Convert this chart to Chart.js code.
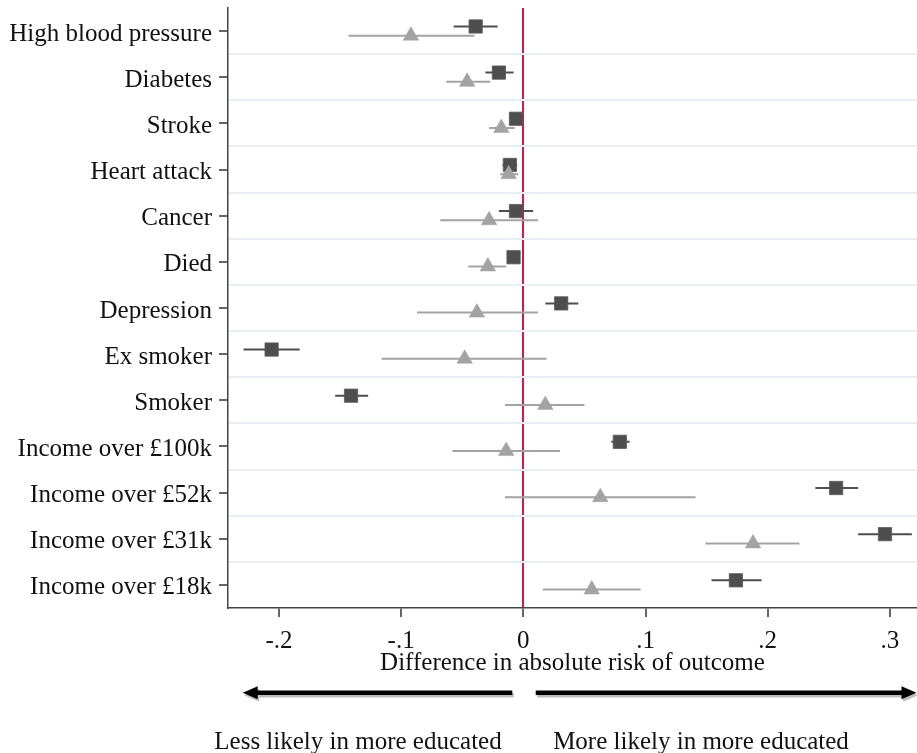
<!DOCTYPE html>
<html><head><meta charset="utf-8">
<script src="https://cdn.jsdelivr.net/npm/chart.js@4"></script>
<style>
html,body{margin:0;padding:0;background:#fff;}
#wrap{position:relative;width:917px;height:753px;overflow:hidden;}
.cap{position:absolute;top:728px;font-family:"Liberation Serif","Times New Roman",serif;font-size:25px;line-height:25px;color:#111;white-space:nowrap;transform:translateX(-50%);}
</style></head><body>
<div id="wrap"><canvas id="c" width="917" height="753"></canvas>
<div class="cap" style="left:358px">Less likely in more educated</div>
<div class="cap" style="left:701px">More likely in more educated</div>
</div>
<script>
const categories = ['High blood pressure','Diabetes','Stroke','Heart attack','Cancer','Died','Depression','Ex smoker','Smoker','Income over £100k','Income over £52k','Income over £31k','Income over £18k'];

// series 1 (dark squares)
const sqEst = [-0.039,-0.020,-0.006,-0.011,-0.006,-0.008, 0.031,-0.206,-0.141, 0.079, 0.256, 0.296, 0.174];
const sqLo  = [-0.057,-0.031,-0.009,-0.017,-0.020,-0.011, 0.018,-0.229,-0.154, 0.072, 0.239, 0.274, 0.154];
const sqHi  = [-0.021,-0.008,-0.003,-0.005, 0.008,-0.005, 0.045,-0.183,-0.127, 0.087, 0.274, 0.318, 0.195];

// series 2 (grey triangles)
const trEst = [-0.092,-0.046,-0.018,-0.012,-0.028,-0.029,-0.038,-0.048, 0.018,-0.014, 0.063, 0.188, 0.056];
const trLo  = [-0.143,-0.063,-0.028,-0.019,-0.068,-0.045,-0.087,-0.116,-0.015,-0.058,-0.015, 0.149, 0.016];
const trHi  = [-0.040,-0.027,-0.007,-0.004, 0.012,-0.014, 0.012, 0.019, 0.050, 0.030, 0.141, 0.226, 0.096];

const xTickValues = [-0.2,-0.1,0,0.1,0.2,0.3];
const xTickLabels = ['-.2','-.1','0','.1','.2','.3'];
const xMin = -0.2417, xMax = 0.3222;
const xTitle = 'Difference in absolute risk of outcome';

const OFF = 0.1;
const DARK = '#4e4e4e', GREY = '#a3a3a3', RED = '#c91c48', GRID = '#e7eff2';

function ciData(lo, hi, off){
  const out = [];
  lo.forEach((l,i)=>{
    const y = i+1+off;
    out.push({x:l,y:y},{x:hi[i],y:y},{x:hi[i],y:null});
  });
  return out;
}
function ptData(est, off){ return est.map((v,i)=>({x:v,y:i+1+off})); }

const serif = {family:'"Liberation Serif","Times New Roman",serif', size:25};

const arrowPlugin = {
  id:'arrows',
  afterDraw(chart){
    const ctx = chart.ctx;
    const y = 692.8, th = 4.6, hl = 15, hh = 6.5;
    function arrow(tail, tip, color, dx, dy){
      const d = tip < tail ? -1 : 1;
      const base = tip - d*hl;
      ctx.save();
      ctx.fillStyle = color;
      ctx.beginPath();
      ctx.moveTo(tail+dx, y-th/2+dy);
      ctx.lineTo(base+dx, y-th/2+dy);
      ctx.lineTo(base+dx, y-hh+dy);
      ctx.lineTo(tip+dx, y+dy);
      ctx.lineTo(base+dx, y+hh+dy);
      ctx.lineTo(base+dx, y+th/2+dy);
      ctx.lineTo(tail+dx, y+th/2+dy);
      ctx.closePath();
      ctx.fill();
      ctx.restore();
    }
    arrow(512.3, 242.7, '#bdbdbd', 1.5, 2.5);
    arrow(535.7, 916.5, '#bdbdbd', 1.5, 2.5);
    arrow(512.3, 242.7, '#000', 0, 0);
    arrow(535.7, 916.5, '#000', 0, 0);
  }
};

new Chart(document.getElementById('c'), {
  type:'scatter',
  data:{datasets:[
    {type:'line', data:ciData(sqLo,sqHi,-OFF), borderColor:DARK, borderWidth:2, pointRadius:0, showLine:true, spanGaps:false, fill:false, order:4},
    {type:'scatter', data:ptData(sqEst,-OFF), pointStyle:'rect', pointRadius:9.4, backgroundColor:DARK, borderColor:'#5a5a5a', borderWidth:0.8, order:3},
    {type:'line', data:ciData(trLo,trHi,OFF), borderColor:GREY, borderWidth:2, pointRadius:0, showLine:true, spanGaps:false, fill:false, order:2},
    {type:'scatter', data:ptData(trEst,OFF), pointStyle:'triangle', pointRadius:9, backgroundColor:GREY, borderColor:GREY, borderWidth:0.5, order:1}
  ]},
  options:{
    responsive:false, animation:false, devicePixelRatio:1,
    layout:{autoPadding:false, padding:{top:8,left:0,right:0,bottom:0}},
    plugins:{legend:{display:false}, tooltip:{enabled:false}},
    scales:{
      x:{
        type:'linear', min:xMin, max:xMax,
        afterBuildTicks(s){ s.ticks = xTickValues.map(v=>({value:v})); },
        afterFit(s){ s.height = 145; s.paddingLeft = 0; s.paddingRight = 0; },
        ticks:{autoSkip:false, padding:9, color:'#111', font:serif,
          callback:(v,i)=>xTickLabels[xTickValues.indexOf(v)] ?? ''},
        grid:{drawOnChartArea:true, tickLength:9, tickWidth:1.5, tickColor:'#333',
          lineWidth:2, color:(c)=> (c.tick && c.tick.value===0) ? RED : 'rgba(0,0,0,0)'},
        border:{display:true, color:'#444', width:1.5},
        title:{display:true, text:xTitle, color:'#111', font:serif, padding:{top:0,bottom:75}}
      },
      y:{
        type:'linear', min:0.5, max:13.5, reverse:true,
        afterBuildTicks(s){
          const t=[];
          for(let i=1;i<=categories.length;i++){ t.push({value:i}); if(i<categories.length) t.push({value:i+0.5}); }
          s.ticks=t;
        },
        afterFit(s){ s.width = 228; s.paddingTop = 0; s.paddingBottom = 0; },
        ticks:{autoSkip:false, padding:7, labelOffset:3, color:'#111', font:serif,
          callback:(v)=> Number.isInteger(v) ? categories[v-1] : ''},
        grid:{drawOnChartArea:true, tickLength:9,
          tickWidth:(c)=> (c.tick && Number.isInteger(c.tick.value)) ? 1.5 : 0,
          tickColor:(c)=> (c.tick && Number.isInteger(c.tick.value)) ? '#333' : 'rgba(0,0,0,0)',
          lineWidth:2,
          color:(c)=> (c.tick && !Number.isInteger(c.tick.value)) ? GRID : 'rgba(0,0,0,0)'},
        border:{display:true, color:'#444', width:1.5}
      }
    }
  },
  plugins:[arrowPlugin]
});
</script>
</body></html>
